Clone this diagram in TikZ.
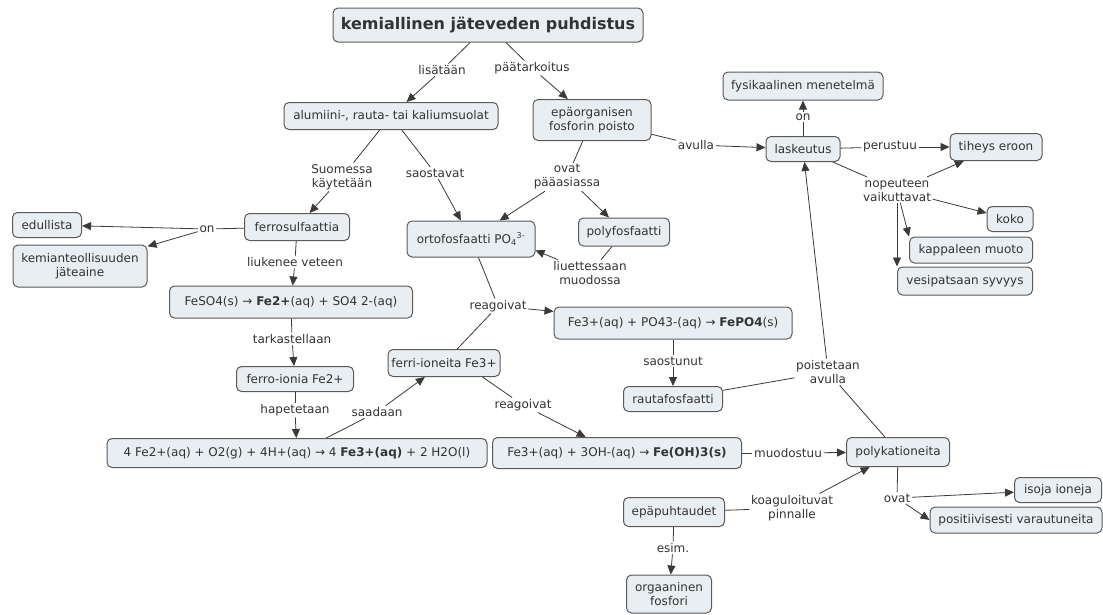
\documentclass[tikz,border=0pt]{standalone}
\usepackage{fontspec}
\setmainfont{DejaVu Sans}
\usetikzlibrary{arrows.meta}
\definecolor{boxfill}{HTML}{E8EEF1}
\definecolor{boxline}{HTML}{5A5A5A}
\definecolor{txt}{HTML}{333333}
\definecolor{lnk}{HTML}{3A3A3A}
\begin{document}
\begin{tikzpicture}[x=1pt,y=-1pt,
  concept/.style={draw=boxline, fill=boxfill, rounded corners=5pt, line width=1pt,
    align=center, text=txt, font=\fontsize{12}{14}\selectfont, inner sep=2pt},
  link/.style={fill=white, inner sep=1.5pt, align=center, text=txt,
    font=\fontsize{12}{14}\selectfont},
  conn/.style={draw=lnk, line width=0.8pt},
  arr/.style={conn, -{Triangle[length=9pt,width=8pt]}}]
\useasboundingbox[fill=white] (0,0) rectangle (1103,614);

% concepts
\node[concept, minimum width=310pt, minimum height=34pt, font=\fontsize{16}{18}\selectfont\bfseries] (title) at (488,25) {kemiallinen jäteveden puhdistus};
\node[concept, minimum width=214pt, minimum height=27pt] (alum) at (391,116) {alumiini-, rauta- tai kaliumsuolat};
\node[concept, minimum width=118pt, minimum height=41pt] (epa) at (592,120) {epäorganisen\\fosforin poisto};
\node[concept, minimum width=160pt, minimum height=28pt] (fys) at (803,86) {fysikaalinen menetelmä};
\node[concept, minimum width=74pt, minimum height=25pt] (lask) at (803,149) {laskeutus};
\node[concept, minimum width=92pt, minimum height=27pt] (tih) at (996,147) {tiheys eroon};
\node[concept, minimum width=46pt, minimum height=25pt] (koko) at (1010,219) {koko};
\node[concept, minimum width=123pt, minimum height=26pt] (kapp) at (971,250) {kappaleen muoto};
\node[concept, minimum width=135pt, minimum height=28pt] (vesi) at (965,281) {vesipatsaan syvyys};
\node[concept, minimum width=69pt, minimum height=25pt] (edu) at (47,225) {edullista};
\node[concept, minimum width=134pt, minimum height=42pt] (kem) at (80,266) {kemianteollisuuden\\jäteaine};
\node[concept, minimum width=105pt, minimum height=27pt] (fsul) at (297,227) {ferrosulfaattia};
\node[concept, minimum width=128pt, minimum height=36pt] (orto) at (471,239) {ortofosfaatti PO\textsubscript{4}\textsuperscript{3-}};
\node[concept, minimum width=91pt, minimum height=28pt] (poly) at (624,232) {polyfosfaatti};
\node[concept, minimum width=243pt, minimum height=32pt] (feso) at (291,302) {FeSO4(s) → \textbf{Fe2+}(aq) + SO4 2-(aq)};
\node[concept, minimum width=117pt, minimum height=25pt] (ferro) at (295,379) {ferro-ionia Fe2+};
\node[concept, minimum width=112pt, minimum height=27pt] (ferri) at (444,363) {ferri-ioneita Fe3+};
\node[concept, minimum width=380pt, minimum height=29pt] (eq4) at (297,453) {4 Fe2+(aq) + O2(g) + 4H+(aq) → 4 \textbf{Fe3+(aq)} + 2 H2O(l)};
\node[concept, minimum width=238pt, minimum height=32pt] (fepo) at (673,323) {Fe3+(aq) + PO43-(aq) → \textbf{FePO4}(s)};
\node[concept, minimum width=99pt, minimum height=25pt] (rauta) at (673,399) {rautafosfaatti};
\node[concept, minimum width=249pt, minimum height=31pt] (feoh) at (617,453) {Fe3+(aq) + 3OH-(aq) → \textbf{Fe(OH)3(s)}};
\node[concept, minimum width=103pt, minimum height=29pt] (pk) at (898,452) {polykationeita};
\node[concept, minimum width=101pt, minimum height=29pt] (epu) at (674,512) {epäpuhtaudet};
\node[concept, minimum width=85pt, minimum height=38pt] (org) at (669,594) {orgaaninen\\fosfori};
\node[concept, minimum width=87pt, minimum height=25pt] (iso) at (1058,490) {isoja ioneja};
\node[concept, minimum width=172pt, minimum height=26pt] (pos) at (1016,520) {positiivisesti varautuneita};

% linking phrases
\node[link] (llis) at (442,70) {lisätään};
\node[link] (lpaa) at (532,68) {päätarkoitus};
\node[link] (lsuo) at (342,177) {Suomessa\\käytetään};
\node[link] (lsao) at (435,173) {saostavat};
\node[link] (lova) at (567,177) {ovat\\pääasiassa};
\node[link] (lliu) at (590,273) {liuettessaan\\muodossa};
\node[link] (lavu) at (696,145) {avulla};
\node[link] (lon1) at (803,117) {on};
\node[link] (lper) at (890,147) {perustuu};
\node[link] (lnop) at (897,190) {nopeuteen\\vaikuttavat};
\node[link] (lon2) at (207,229) {on};
\node[link] (lliuk) at (295,262) {liukenee veteen};
\node[link] (ltar) at (292,339) {tarkastellaan};
\node[link] (lhap) at (295,410) {hapetetaan};
\node[link] (lsaa) at (377,412) {saadaan};
\node[link] (lre1) at (498,306) {reagoivat};
\node[link] (lre2) at (523,405) {reagoivat};
\node[link] (lsast) at (673,361) {saostunut};
\node[link] (lpoi) at (828,372) {poistetaan\\avulla};
\node[link] (lmuo) at (788,453) {muodostuu};
\node[link] (lkoa) at (792,508) {koaguloituvat\\pinnalle};
\node[link] (lesi) at (673,548) {esim.};
\node[link] (lova2) at (897,498) {ovat};

% connectors
\draw[conn] (title) -- (llis); \draw[arr] (llis) -- (alum);
\draw[conn] (title) -- (lpaa); \draw[arr] (lpaa) -- (epa);
\draw[conn] (alum) -- (lsuo); \draw[arr] (lsuo) -- (fsul);
\draw[conn] (alum) -- (lsao); \draw[arr] (lsao) -- (orto);
\draw[conn] (epa) -- (lova); \draw[arr] (lova) -- (orto); \draw[arr] (lova) -- (poly);
\draw[conn] (poly) -- (lliu); \draw[arr] (lliu) -- (orto.-10);
\draw[conn] (epa) -- (lavu); \draw[arr] (lavu) -- (lask);
\draw[conn] (lask) -- (lon1); \draw[arr] (lon1) -- (fys);
\draw[conn] (lask) -- (lper); \draw[arr] (lper) -- (tih);
\draw[conn] (lask) -- (lnop);
\draw[arr] (lnop) -- (tih);
\draw[arr] (lnop) -- (koko);
\draw[arr] (lnop) -- (kapp.north west);
\draw[arr] (lnop.south -| vesi.north west) -- (vesi.north west);
\draw[conn] (fsul) -- (lon2); \draw[arr] (lon2) -- (edu); \draw[arr] (lon2) -- (kem);
\draw[conn] (fsul) -- (lliuk); \draw[arr] (lliuk) -- (feso);
\draw[conn] (feso) -- (ltar); \draw[arr] (ltar) -- (ferro);
\draw[conn] (ferro) -- (lhap); \draw[arr] (lhap) -- (eq4);
\draw[conn] (eq4) -- (lsaa); \draw[arr] (lsaa) -- (ferri);
\draw[conn] (orto) -- (lre1); \draw[conn] (ferri) -- (lre1); \draw[arr] (lre1) -- (fepo);
\draw[conn] (ferri.-20) -- (lre2); \draw[arr] (lre2) -- (feoh);
\draw[conn] (fepo) -- (lsast); \draw[arr] (lsast) -- (rauta);
\draw[conn] (rauta) -- (lpoi); \draw[conn] (pk) -- (lpoi); \draw[arr] (lpoi) -- (lask);
\draw[conn] (feoh) -- (lmuo); \draw[arr] (lmuo) -- (pk);
\draw[conn] (epu) -- (lkoa); \draw[arr] (lkoa) -- (pk);
\draw[conn] (epu) -- (lesi); \draw[arr] (lesi) -- (org);
\draw[conn] (pk) -- (lova2); \draw[arr] (lova2) -- (iso); \draw[arr] (lova2) -- (pos.west);
\end{tikzpicture}
\end{document}
